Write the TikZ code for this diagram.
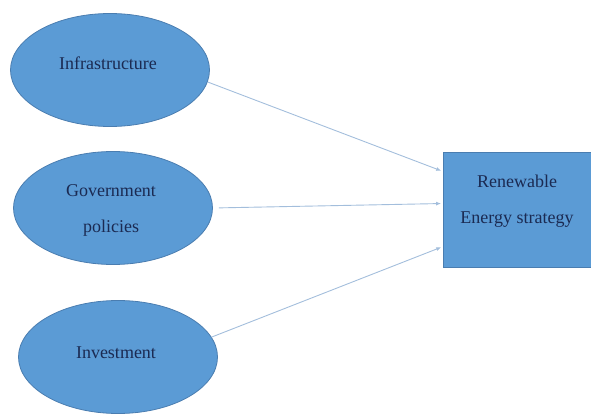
\documentclass[tikz,border=0pt]{standalone}
\usepackage{fontspec}
\setmainfont{Liberation Serif}
\usetikzlibrary{shapes.geometric,arrows.meta}
\definecolor{nodefill}{HTML}{5B9BD5}
\definecolor{nodeedge}{HTML}{4A7DB0}
\definecolor{nodetext}{HTML}{1B2A52}
\definecolor{linkcol}{HTML}{A3BEDC}
\tikzset{
  factor/.style={ellipse, draw=nodeedge, fill=nodefill, line width=0.8pt,
    minimum width=199pt, minimum height=113pt, inner sep=0pt},
  target/.style={rectangle, draw=nodeedge, fill=nodefill, line width=0.8pt,
    minimum width=148pt, minimum height=115pt, inner sep=0pt},
  caption/.style={text=nodetext, font=\fontsize{18}{36}\selectfont,
    align=center, inner sep=0pt},
  link/.style={draw=linkcol, line width=0.9pt,
    -{Latex[length=5pt,width=4pt]}, shorten >=2pt}
}
\begin{document}
\begin{tikzpicture}[x=1pt,y=-1pt]
  \useasboundingbox (0,0) rectangle (591,414);
  % factor ellipses with their labels
  \node[factor] (infra) at (110,70) {};
  \node[caption] (infralbl) at (108,63) {Infrastructure};
  \node[factor] (gov) at (113,208) {};
  \node[caption] (govlbl) at (111,210) {Government\\policies};
  \node[factor] (inv) at (118,357) {};
  \node[caption] (invlbl) at (116,353) {Investment};
  % strategy box
  \node[target] (box) at (517.5,209.5) {};
  \node[caption] (boxlbl) at (517,201) {Renewable\\Energy strategy};
  % influences
  \draw[link] (infra.-7) -- ([yshift=38pt]box.west);
  \draw[link, shorten <=6pt] (gov.east) -- ([yshift=6pt]box.west);
  \draw[link] (inv.12) -- ([yshift=-37pt]box.west);
\end{tikzpicture}
\end{document}
